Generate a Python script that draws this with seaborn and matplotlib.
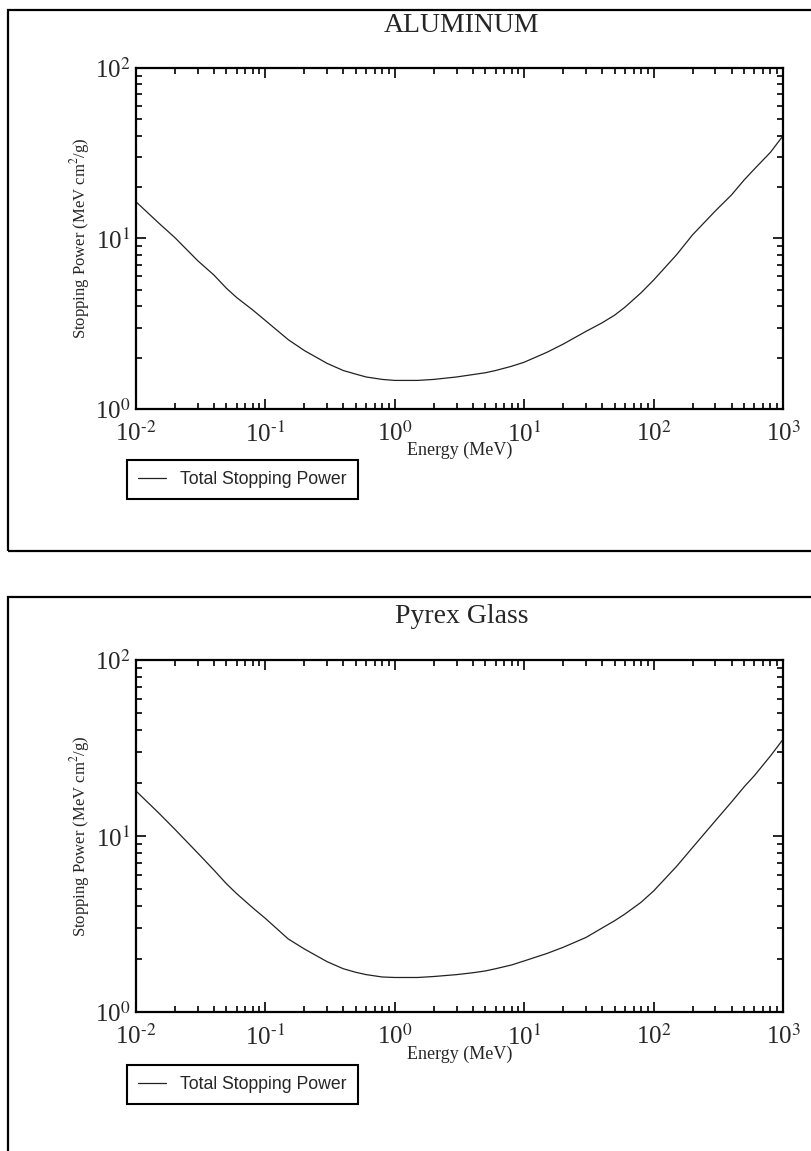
import matplotlib
matplotlib.use("Agg")
import matplotlib.pyplot as plt
import matplotlib.patches as mpatches
from matplotlib.ticker import FuncFormatter
import numpy as np
import pandas as pd
import seaborn as sns

# Energia (MeV) y poder de frenado total (MeV cm2/g)
energia = [0.01, 0.015, 0.02, 0.03, 0.04, 0.05, 0.06, 0.08, 0.1, 0.15, 0.2, 0.3,
           0.4, 0.5, 0.6, 0.8, 1, 1.5, 2, 3, 4, 5, 6, 8, 10, 15, 20, 30, 40, 50,
           60, 80, 100, 150, 200, 300, 400, 500, 600, 800, 1000]

aluminio = [16.4, 12.3, 10.1, 7.4, 6.1, 5.1, 4.5, 3.8, 3.3, 2.55, 2.2, 1.85,
            1.68, 1.6, 1.54, 1.49, 1.47, 1.47, 1.49, 1.54, 1.59, 1.63, 1.68, 1.78,
            1.88, 2.15, 2.4, 2.85, 3.2, 3.55, 3.95, 4.8, 5.7, 8.0, 10.5, 14.5,
            18.0, 22.0, 25.5, 32.0, 40.0]

pyrex = [18.0, 13.5, 10.9, 8.0, 6.4, 5.35, 4.7, 3.9, 3.4, 2.6, 2.28, 1.93,
         1.76, 1.68, 1.63, 1.58, 1.57, 1.57, 1.59, 1.63, 1.67, 1.71, 1.76, 1.85,
         1.95, 2.15, 2.33, 2.65, 3.0, 3.3, 3.6, 4.2, 4.87, 6.7, 8.6, 12.2,
         15.6, 19.0, 22.0, 28.5, 35.4]

titulos = ["ALUMINUM", "Pyrex Glass"]
etiqueta_serie = "Total Stopping Power"

sns.set_theme(style="ticks")
plt.rcParams['font.family'] = ['Liberation Serif', 'DejaVu Serif']
plt.rcParams['mathtext.fontset'] = 'stix'
plt.rcParams['axes.unicode_minus'] = False


def potencia(v, pos):
    # etiqueta 10^n con guion corto, como en el original
    n = int(round(np.log10(v)))
    return r'$\mathdefault{10^{\text{%d}}}$' % n


fig = plt.figure(figsize=(8.11, 11.51), dpi=100)

# marcos exteriores de cada grafico
fig.patches.append(mpatches.Rectangle((0.0099, 0.5213), 1.2, 0.47, transform=fig.transFigure,
                                      fill=False, edgecolor='black', linewidth=1.6))
fig.patches.append(mpatches.Rectangle((0.0099, -0.2), 1.2, 0.6813, transform=fig.transFigure,
                                      fill=False, edgecolor='black', linewidth=1.6))

ejes = [fig.add_axes([0.1677, 0.6447, 0.7978, 0.2963]),
        fig.add_axes([0.1677, 0.1208, 0.7978, 0.3058])]

for ax, titulo, valores in zip(ejes, titulos, [aluminio, pyrex]):
    datos = pd.DataFrame({'Energia': energia, 'Poder': valores})
    sns.lineplot(x='Energia', y='Poder', data=datos, ax=ax, color='#222222',
                 linewidth=0.9, label=etiqueta_serie)
    ax.set_xscale('log')
    ax.set_yscale('log')
    ax.set_xlim(0.01, 1000)
    ax.set_ylim(1, 100)
    ax.xaxis.set_major_formatter(FuncFormatter(potencia))
    ax.yaxis.set_major_formatter(FuncFormatter(potencia))
    ax.tick_params(which='both', direction='in', top=True, right=True, width=1.2, color='black')
    ax.tick_params(which='major', length=7.2, labelsize=18, pad=4)
    ax.tick_params(axis='x', which='major', pad=9)
    ax.tick_params(which='minor', length=4.3)
    for s in ax.spines.values():
        s.set_linewidth(1.6)
        s.set_color('black')

    ax.set_xlabel('Energy (MeV)', fontsize=13)
    ax.xaxis.set_label_coords(0.5, -0.095)
    ax.set_ylabel('Stopping Power (MeV cm$^2$/g)', fontsize=12)
    ax.yaxis.set_label_coords(-0.068, 0.5)

    ax.text(0.503, 1.124, titulo, transform=ax.transAxes, ha='center', va='center', fontsize=20)

    leg = ax.legend(loc='upper left', bbox_to_anchor=(-0.014, -0.15), borderaxespad=0,
                    frameon=True, fancybox=False, edgecolor='black', framealpha=1,
                    prop={'family': 'Liberation Sans', 'size': 12.7},
                    handlelength=1.6, handletextpad=0.8, borderpad=0.62)
    leg.get_frame().set_linewidth(1.5)

fig.savefig('out.png', dpi=100)
